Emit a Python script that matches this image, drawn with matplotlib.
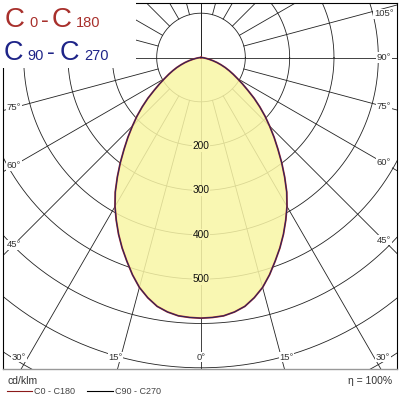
import numpy as np
import matplotlib
import matplotlib.pyplot as plt
from matplotlib.patches import Rectangle
from matplotlib.lines import Line2D

matplotlib.use('Agg')

plt.rcParams['font.family'] = ['Liberation Sans', 'DejaVu Sans']

# 배광 데이터 (cd/klm), 연직각 0..90 (nadir 기준)
gamma = [0, 2.5, 5, 7.5, 10, 12.5, 15, 17.5, 20, 22.5, 25, 27.5, 30, 32.5, 35, 37.5, 40, 42.5,
         45, 47.5, 50, 52.5, 55, 57.5, 60, 62.5, 65, 67.5, 70, 72.5, 75, 77.5, 80, 82.5, 85, 87.5, 90]
i_c0_c180 = [588, 587, 585, 579, 570, 555, 537, 514, 489, 465, 440, 414, 388, 360, 329, 299, 270, 244,
             219, 196, 173, 151, 129, 111, 95, 82, 70, 59, 48, 38, 28, 19, 12, 7, 3.5, 1.2, 0]
i_c90_c270 = [588, 587, 585, 579, 570, 555, 537, 514, 489, 465, 440, 414, 388, 360, 329, 299, 270, 244,
              219, 196, 173, 151, 129, 111, 95, 82, 70, 59, 48, 38, 28, 19, 12, 7, 3.5, 1.2, 0]

ring_values = [100, 200, 300, 400, 500, 600, 700, 800, 900]
ring_labels = [200, 300, 400, 500]
right_angles = [45, 60, 75, 90, 105]
left_angles = [45, 60, 75]
bottom_angles = [0, 15, 30]

# 픽셀 배치
S = 0.4433            # px per cd/klm
CX, CY = 201, 57.5    # 중심 (px)
LEFT, TOP, RIGHT, BOTTOM = 2.7, 2.7, 396.7, 369

fill_rgb = (0.977, 0.963, 0.65)
fill_eff = (0.98, 0.968, 0.699)


def to_data(xp, yp):
    return (xp - CX) / S, (CY - yp) / S


def curve_xy(values):
    g = np.radians(np.concatenate([-np.array(gamma[::-1]), np.array(gamma[1:])]))
    v = np.concatenate([np.array(values[::-1]), np.array(values[1:])])
    return v * np.sin(g), -v * np.cos(g)


fig = plt.figure(figsize=(4, 4), dpi=100)
ax = fig.add_axes([LEFT / 400, 1 - BOTTOM / 400, (RIGHT - LEFT) / 400, (BOTTOM - TOP) / 400])
x0, y1 = to_data(LEFT, TOP)
x1, y0 = to_data(RIGHT, BOTTOM)
ax.set_xlim(x0, x1)
ax.set_ylim(y0, y1)
ax.set_xticks([])
ax.set_yticks([])
for side in ['left', 'right', 'top']:
    ax.spines[side].set_color('black')
    ax.spines[side].set_linewidth(0.8)
ax.spines['bottom'].set_color('#999999')
ax.spines['bottom'].set_linewidth(1.0)

# 격자 - 원
t = np.linspace(0, 2 * np.pi, 400)
for r in ring_values:
    ax.plot(r * np.cos(t), r * np.sin(t), color='#222222', lw=0.6, zorder=1)

# 격자 - 방사선
for a in range(-180, 181, 15):
    r0 = 0 if a % 90 == 0 else 100
    ar = np.radians(a)
    ax.plot([r0 * np.sin(ar), 1200 * np.sin(ar)], [-r0 * np.cos(ar), -1200 * np.cos(ar)],
            color='#222222', lw=0.6, zorder=1)

# 배광 곡선
xa, ya = curve_xy(i_c0_c180)
xb, yb = curve_xy(i_c90_c270)
ax.fill(xa, ya, color=fill_rgb, alpha=0.86, lw=0, zorder=3)
ax.plot(xa, ya, color='#B03030', lw=1.3, zorder=4)
ax.plot(xb, yb, color='#24245E', lw=0.7, zorder=5)

for r in ring_labels:
    ax.text(0, -r, str(r), ha='center', va='center', fontsize=7.3, color='#111111', zorder=6,
            bbox=dict(fc=fill_eff, ec='none', pad=0.4))

# 각도 라벨
lab_kw = dict(ha='center', va='center', fontsize=6.8, color='#333333', zorder=6,
              bbox=dict(fc='white', ec='none', pad=0.5))
for angles, xp in [(right_angles, RIGHT - 13), (left_angles, LEFT + 11)]:
    for a in angles:
        ar = np.radians(a)
        tt = abs(xp - CX) / np.sin(ar)
        yp = max(CY + tt * np.cos(ar), 14)
        ax.text(*to_data(xp, yp), f'{a}°', **lab_kw)
for a in bottom_angles:
    for sgn in ([1] if a == 0 else [1, -1]):
        xp = CX + sgn * ((BOTTOM - CY) * np.tan(np.radians(a)) + (2 if a else 0))
        ax.text(*to_data(xp, 357), f'{a}°', **lab_kw)

# 제목 영역
fig.add_artist(Rectangle((0, 1 - 68 / 400), 136 / 400, 68 / 400, transform=fig.transFigure,
                         fc='white', ec='none', zorder=10))
red = '#A8302C'
blue = '#1E2488'
title_parts = [
    (5, 27.3, 'C', 20, red), (29, 27.3, '0', 10.5, red), (41, 27.3, '-', 17, red),
    (52, 27.3, 'C', 20, red), (76, 27.3, '180', 10.5, red),
    (4, 59.5, 'C', 19.5, blue), (27, 59.5, '90', 10.5, blue), (47, 59.5, '-', 17, blue),
    (60, 59.5, 'C', 19.5, blue), (84, 59.5, '270', 10.5, blue),
]
for xp, yp, s, fs, c in title_parts:
    fig.text(xp / 400, 1 - yp / 400, s, fontsize=fs, color=c, va='baseline', ha='left', zorder=11)

# 하단 범례
fig.text(8 / 400, 1 - 383.5 / 400, 'cd/klm', fontsize=7.5, color='#333333', va='baseline')
fig.text(392 / 400, 1 - 383.5 / 400, 'η = 100%', fontsize=7.5, color='#333333', va='baseline', ha='right')
fig.add_artist(Line2D([7 / 400, 32 / 400], [1 - 390.7 / 400] * 2, color='#8B1A1A', lw=0.8))
fig.text(34 / 400, 1 - 391 / 400, 'C0 - C180', fontsize=6.5, color='#444444', va='center')
fig.add_artist(Line2D([87 / 400, 113 / 400], [1 - 390.7 / 400] * 2, color='black', lw=0.8))
fig.text(115 / 400, 1 - 391 / 400, 'C90 - C270', fontsize=6.5, color='#444444', va='center')

fig.savefig('out.png', dpi=100, facecolor='white')
